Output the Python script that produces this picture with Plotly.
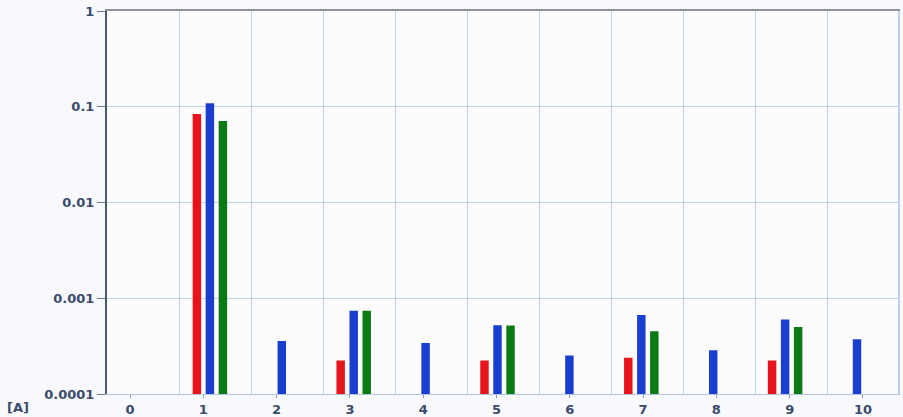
import plotly.graph_objects as go

categories = [0, 1, 2, 3, 4, 5, 6, 7, 8, 9, 10]
tick_labels = ["0", "1", "2", "3", "4", "5", "6", "7", "8", "9", "10"]
red_values = [None, 0.084, None, 0.000224, None, 0.000224, None, 0.000239, None, 0.000224, None]
blue_values = [None, 0.109, 0.000358, 0.00074, 0.000341, 0.000523, 0.000253, 0.000667, 0.000286, 0.000601, 0.000373]
green_values = [None, 0.071, None, 0.00074, None, 0.00052, None, 0.000453, None, 0.000502, None]
y_tick_vals = [1, 0.1, 0.01, 0.001, 0.0001]
y_tick_text = ["1", "0.1", "0.01", "0.001", "0.0001"]

W, H = 903, 417
L, R, T, B = 107, 5, 11, 23
plot_w = W - L - R
plot_h = H - T - B

label_font = dict(family="DejaVu Sans", size=13, color="#3b4b6b", weight="bold")
grid_col = "#bcd3ee"

fig = go.Figure()
fig.add_trace(go.Bar(x=categories, y=red_values, marker=dict(color="#e8141c", line=dict(width=0)), name="L1"))
fig.add_trace(go.Bar(x=categories, y=blue_values, marker=dict(color="#1a3fd0", line=dict(width=0)), name="L2"))
fig.add_trace(go.Bar(x=categories, y=green_values, marker=dict(color="#0a7a14", line=dict(width=0)), name="L3"))

grid_positions = [c + 0.584 for c in categories[:-1]]

fig.update_layout(
    width=W, height=H,
    margin=dict(l=L, r=R, t=T, b=B, pad=0, autoexpand=False),
    paper_bgcolor="#f7f9fc",
    plot_bgcolor="#fcfcfc",
    showlegend=False,
    barmode="group",
    bargap=0.457,
    bargroupgap=0.35,
    xaxis=dict(
        automargin=False,
        range=[-0.431, 10.570],
        tickvals=grid_positions,
        showticklabels=False,
        ticks="",
        showgrid=True, gridcolor=grid_col, gridwidth=1,
        showline=True, linecolor="#b0c6e0", linewidth=1,
        zeroline=False,
    ),
    xaxis2=dict(
        automargin=False,
        overlaying="x", side="bottom", anchor="y",
        range=[-0.314, 10.478],
        tickvals=categories, ticktext=tick_labels,
        ticks="outside", ticklen=3, tickcolor="#8a9ab0", tickwidth=1,
        tickfont=label_font,
        showgrid=False, showline=False, zeroline=False,
    ),
    xaxis3=dict(
        automargin=False,
        overlaying="x", side="top", anchor="y",
        range=[0, 1], showticklabels=False, ticks="",
        showgrid=False, zeroline=False,
        showline=True, linecolor="#8f949c", linewidth=2,
    ),
    yaxis=dict(
        automargin=False,
        type="log", range=[-4, 0],
        tickvals=y_tick_vals, ticktext=y_tick_text,
        ticks="outside", ticklen=8, tickcolor="#6a7a90", tickwidth=1,
        tickfont=label_font,
        showgrid=True, gridcolor=grid_col, gridwidth=1,
        showline=True, linecolor="#4a5870", linewidth=2,
        zeroline=False,
    ),
    yaxis2=dict(
        automargin=False,
        overlaying="y", side="right", anchor="x",
        range=[0, 1], showticklabels=False, ticks="",
        showgrid=False, zeroline=False,
        showline=True, linecolor="#bcd3ee", linewidth=2,
    ),
    annotations=[dict(
        text="[A]", xref="paper", yref="paper",
        x=-(L - 5) / plot_w, y=-(407 - (T + plot_h)) / plot_h,
        xanchor="left", yanchor="middle", showarrow=False,
        font=label_font,
    )],
)

# invisible traces to activate auxiliary axes
fig.add_trace(go.Scatter(x=[0], y=[None], xaxis="x2", yaxis="y", showlegend=False, hoverinfo="skip"))
fig.add_trace(go.Scatter(x=[0], y=[None], xaxis="x3", yaxis="y", showlegend=False, hoverinfo="skip"))
fig.add_trace(go.Scatter(x=[None], y=[0], xaxis="x", yaxis="y2", showlegend=False, hoverinfo="skip"))

fig.write_html("out.html")
